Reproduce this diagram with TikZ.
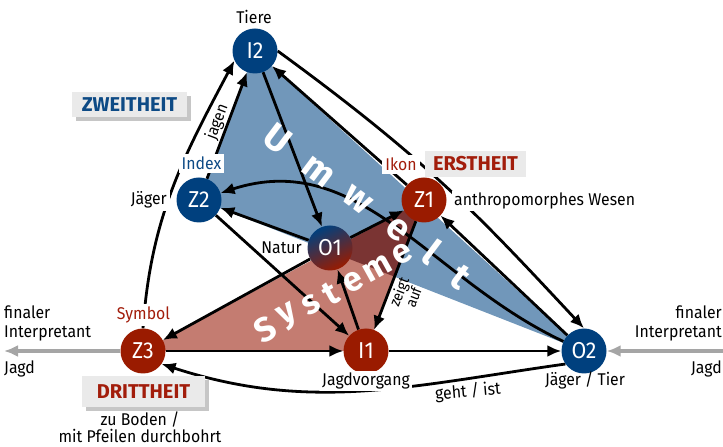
\documentclass[tikz,border=0pt]{standalone}
\usepackage{fontspec}
\setmainfont{Fira Sans}
\newfontfamily\lblfont{Fira Sans}[FakeStretch=0.93]
\usetikzlibrary{arrows.meta,shadows}
\pgfdeclarelayer{tri}
\pgfdeclarelayer{lines}
\pgfsetlayers{tri,lines,main}
\definecolor{nblue}{HTML}{00407E}
\definecolor{nred}{HTML}{9A1B00}
\definecolor{triblue}{HTML}{7197BA}
\definecolor{trired}{HTML}{C47C71}
\definecolor{trioverlap}{HTML}{7A3433}
\definecolor{lblred}{HTML}{A21D0B}
\definecolor{lblblue}{HTML}{0D4A85}
\definecolor{boxgray}{HTML}{EAEAEA}
\definecolor{arrgray}{HTML}{A5A5A5}
\begin{document}
\begin{tikzpicture}[x=1pt,y=1pt,
  sign/.style={circle, minimum size=45pt, inner sep=0pt, text=white, font=\lblfont\fontsize{23}{23}\selectfont},
  bluesign/.style={sign, fill=nblue},
  redsign/.style={sign, fill=nred},
  conn/.style={line width=2.8pt, -{Latex[length=14pt,width=12pt]}},
  connrev/.style={line width=2.8pt, {Latex[length=14pt,width=12pt]}-},
  greyarr/.style={line width=3.2pt, arrgray, -{Latex[length=14pt,width=12pt]}},
  lbl/.style={font=\lblfont\fontsize{17}{19}\selectfont, inner sep=1pt},
  wlbl/.style={lbl, fill=white, inner sep=3pt},
  catbox/.style={fill=boxgray, inner sep=0pt, font=\bfseries\fontsize{20}{20}\selectfont},
  shadowed/.style={drop shadow={shadow xshift=4pt, shadow yshift=-4pt, opacity=0.45}},
  bigletter/.style={text=white, font=\bfseries\fontsize{37}{37}\selectfont, inner sep=0pt},
  sysletter/.style={bigletter, font=\bfseries\fontsize{34}{34}\selectfont, rotate=29},
  umwletter/.style={bigletter, rotate=-37}
]
\useasboundingbox (0,0) rectangle (723,447);

% sign nodes
\node[bluesign] (I2) at (255,396) {I2};
\node[bluesign] (Z2) at (199,247) {Z2};
\node[redsign] (Z1) at (424,247) {Z1};
\node[sign, top color=nblue, bottom color=nred, shading angle=25] (O1) at (330,199) {O1};
\node[redsign] (Z3) at (143,96) {Z3};
\node[redsign] (I1) at (366,96) {I1};
\node[bluesign] (O2) at (584,96) {O2};

% triangles
\begin{pgfonlayer}{tri}
  \fill[triblue] (I2.center) -- (Z2.center) -- (O2.center) -- cycle;
  \fill[trired] (Z3.center) -- (Z1.center) -- (I1.center) -- cycle;
  \begin{scope}
    \clip (I2.center) -- (Z2.center) -- (O2.center) -- cycle;
    \fill[trioverlap] (Z3.center) -- (Z1.center) -- (I1.center) -- cycle;
  \end{scope}
\end{pgfonlayer}

% big letters
\node[umwletter] (uU) at (278,308) {U};
\node[umwletter] (uM) at (318,275) {m};
\node[umwletter] (uW) at (357,247) {w};
\node[umwletter] (uE) at (398,217) {e};
\node[umwletter] (uL) at (432,195) {l};
\node[umwletter] (uT) at (460,170) {t};
\node[sysletter] (sS) at (265,118) {S};
\node[sysletter] (sY) at (289,130) {y};
\node[sysletter] (sS2) at (311,142) {s};
\node[sysletter] (sT) at (331,153) {t};
\node[sysletter] (sE) at (353,165) {e};
\node[sysletter] (sM) at (378,179) {m};
\node[sysletter] (sE2) at (402,193) {e};

% labels
\node[lbl] (tTiere) at (254,430) {Tiere};
\node[wlbl, anchor=east] (tJaeger) at (170,247) {Jäger};
\node[wlbl, anchor=west, inner sep=2pt] (tAnthro) at (452,246) {anthropomorphes Wesen};
\node[lbl, anchor=east] (tNatur) at (303,199) {Natur};
\node[wlbl, inner sep=2pt] (tJagdv) at (366,66) {Jagdvorgang};
\node[lbl] (tJT) at (585,67) {Jäger / Tier};
\node[lbl, align=center, font=\lblfont\fontsize{17}{16.5}\selectfont] (tBoden) at (140,20) {zu Boden /\\mit Pfeilen durchbohrt};
\node[wlbl, text=lblblue] (tIndex) at (201.5,283.5) {Index};
\node[wlbl, text=lblred] (tIkon) at (401,282.5) {Ikon};
\node[wlbl, text=lblred] (tSymbol) at (143.5,132) {Symbol};
\node[lbl, rotate=5] (tGeht) at (468,55) {geht / ist};

\node[lbl, anchor=north west, align=left] (tFinL) at (3,142) {finaler\\Interpretant};
\node[lbl, anchor=north west] (tJagdL) at (3,87) {Jagd};
\node[lbl, anchor=north east, align=right] (tFinR) at (723,142) {finaler\\Interpretant};
\node[lbl, anchor=north east] (tJagdR) at (723,87) {Jagd};

% category boxes
\node[catbox, shadowed, text=lblblue, minimum width=115pt, minimum height=25pt] (bZ) at (129.5,342.5) {ZWEITHEIT};
\node[catbox, text=lblred, minimum width=101pt, minimum height=26pt] (bE) at (475.5,283) {ERSTHEIT};
\node[catbox, shadowed, text=lblred, minimum width=123pt, minimum height=31pt] (bD) at (143.5,55.5) {DRITTHEIT};

\coordinate (leftend) at (4,96);
\coordinate (rightend) at (723,96);

% connectors
\begin{pgfonlayer}{lines}
  \draw[conn] (I2) -- (O1);
  \draw[conn] (Z1) -- (I2);
  \draw[conn] (O2) -- (Z1);
  \draw[conn] (I2.east) .. controls (430,285) and (480,230) .. (O2.north);
  \draw[conn] (O2) to[out=155, in=18] (Z2);
  \draw[conn] (O1) -- (Z2);
  \draw[conn] (Z2) -- (I1);
  \draw[conn] (I1) -- (O1);
  \draw[connrev] (I1) -- node[sloped, below, pos=0.38, align=center, font=\lblfont\fontsize{15}{13}\selectfont, inner sep=2pt] (tZeigt) {zeigt\\auf} (Z1);
  \draw[conn] (O1) -- (Z1);
  \draw[conn] (O1) -- (Z3);
  \draw[conn] (Z3) -- (I1);
  \draw[conn] (I1) -- (O2);
  \draw[conn] (O2.215) to[out=188, in=-18] (Z3.-35);
  \draw[conn] (Z3.north) to[out=86, in=242] (I2.205);
  \draw[conn] (Z2) -- node[sloped, above, pos=0.5, lbl, font=\lblfont\fontsize{16}{16}\selectfont] (tJagen) {jagen} (I2);
  \draw[greyarr] (Z3) -- (leftend);
  \draw[greyarr] (rightend) -- (O2);
\end{pgfonlayer}
\end{tikzpicture}
\end{document}
